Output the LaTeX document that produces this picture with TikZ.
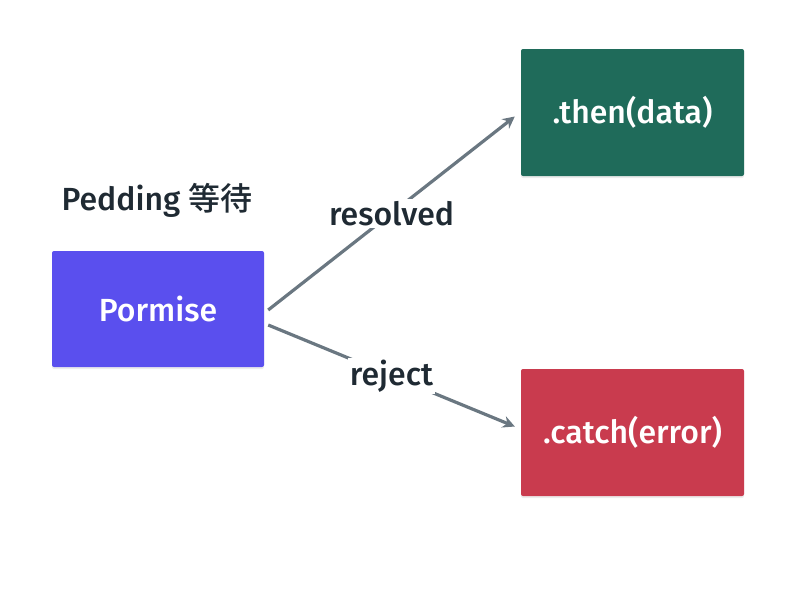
\documentclass[tikz,border=0pt]{standalone}
\usepackage{fontspec}
\setmainfont{Fira Sans}[UprightFont=* Medium]
\newfontfamily\cjk{Noto Sans CJK SC}[UprightFont=* Medium]
\usepackage{xcolor}
\usetikzlibrary{calc, shadows, arrows.meta}

\definecolor{pend blue}{HTML}{5A4FEE}
\definecolor{then green}{HTML}{1F6B5A}
\definecolor{catch red}{HTML}{C93B4E}
\definecolor{link gray}{HTML}{6A7781}
\definecolor{ink}{HTML}{1F2A33}

\begin{document}
\begin{tikzpicture}[x=1pt, y=-1pt,
        state/.style={rounded corners=2pt, minimum width=212pt, minimum height=116pt, text=white, font=\fontsize{32}{35}\selectfont, drop shadow={shadow xshift=0pt, shadow yshift=-2pt, opacity=0.15}},
        link/.style={draw=link gray, line width=3.2pt, -{Stealth[length=12pt, width=12pt]}},
        tag/.style={fill=white, text=ink, inner sep=2pt, font=\fontsize{32}{35}\selectfont}]
        \useasboundingbox (0, 0) rectangle (791, 589);

        \node (pormise) [state, fill=pend blue] at (158, 309) {Pormise};
        \node (pedding) [text=ink, font=\fontsize{32}{35}\selectfont] at (157, 200) {Pedding \cjk 等待};
        \node (then) [state, fill=then green, minimum width=223pt, minimum height=127pt] at (632.5, 112.5) {.then(data)};
        \node (catch) [state, fill=catch red, minimum width=223pt, minimum height=127pt] at (632.5, 432.5) {.catch(error)};

        \draw [link] ([xshift=4pt, yshift=-1pt]pormise.east) -- node [tag] {resolved} ([xshift=-6pt, yshift=-4pt]then.west);
        \draw [link] ([xshift=4pt, yshift=-16pt]pormise.east) -- node [tag] {reject} ([xshift=-6pt, yshift=6pt]catch.west);
    \end{tikzpicture}
\end{document}
